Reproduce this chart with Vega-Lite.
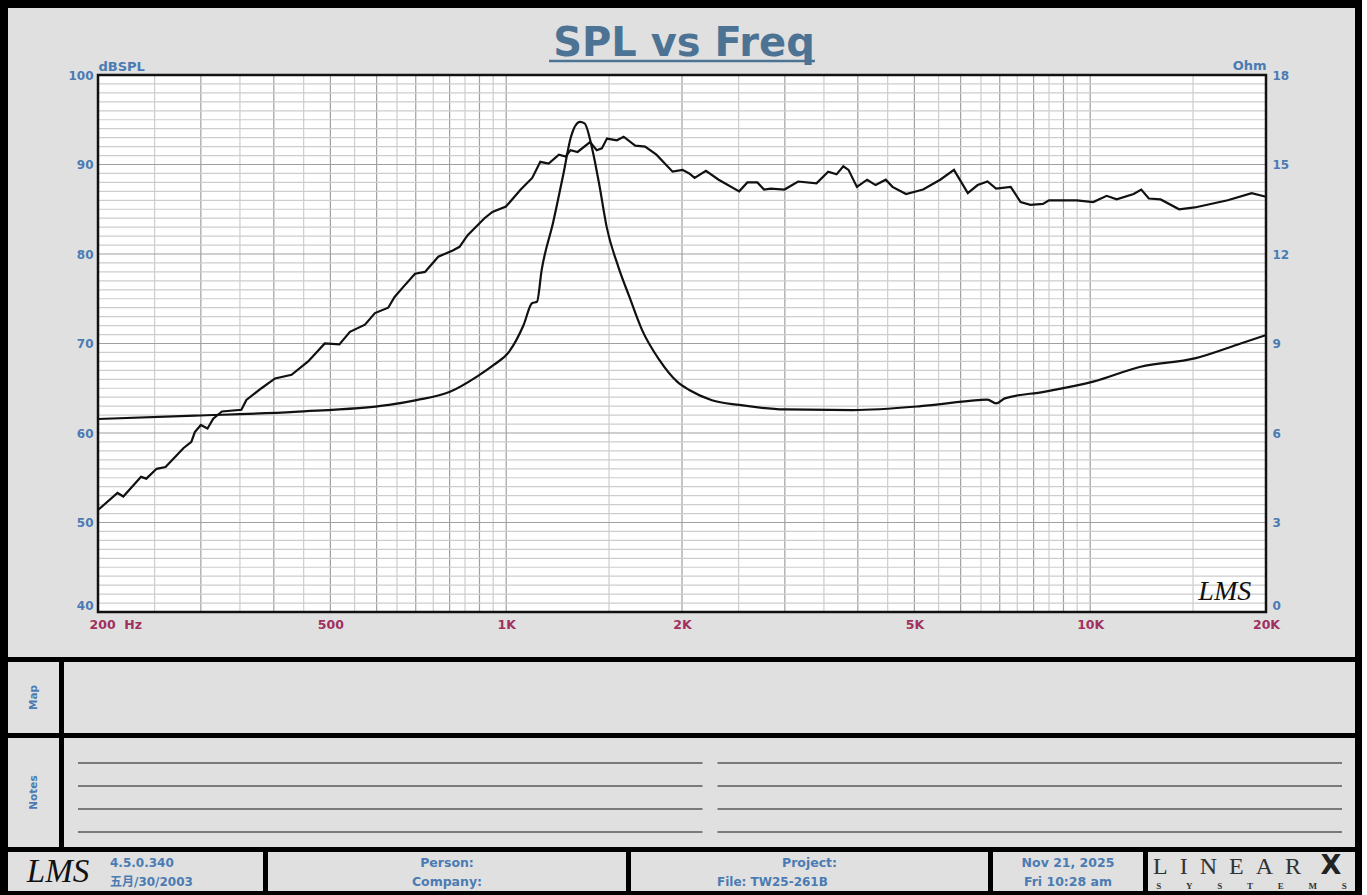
{
  "$schema": "https://vega.github.io/schema/vega-lite/v6.json",
  "background": "black",
  "padding": {"left": 8, "top": 8, "right": 7, "bottom": 4},
  "spacing": 5,
  "config": {
    "view": {"stroke": null, "fill": "#e0e0e0"},
    "text": {"font": "DejaVu Sans"}
  },
  "datasets": {
    "spl": [{"f":200,"db":51.4},{"f":216,"db":53.3},{"f":221,"db":52.9},{"f":237,"db":55.1},{"f":242,"db":54.9},{"f":252,"db":56.0},{"f":261,"db":56.2},{"f":270,"db":57.2},{"f":280,"db":58.3},{"f":289,"db":59.0},{"f":293,"db":60.1},{"f":300,"db":60.9},{"f":308,"db":60.5},{"f":315,"db":61.6},{"f":326,"db":62.4},{"f":352,"db":62.6},{"f":359,"db":63.7},{"f":381,"db":65.0},{"f":402,"db":66.1},{"f":429,"db":66.5},{"f":458,"db":68.0},{"f":489,"db":70.0},{"f":518,"db":69.9},{"f":540,"db":71.3},{"f":573,"db":72.1},{"f":596,"db":73.4},{"f":628,"db":74.0},{"f":644,"db":75.2},{"f":666,"db":76.3},{"f":698,"db":77.8},{"f":726,"db":78.0},{"f":765,"db":79.7},{"f":810,"db":80.4},{"f":832,"db":80.8},{"f":859,"db":82.1},{"f":918,"db":84.0},{"f":947,"db":84.7},{"f":999,"db":85.3},{"f":1059,"db":87.2},{"f":1108,"db":88.5},{"f":1144,"db":90.3},{"f":1182,"db":90.1},{"f":1231,"db":91.1},{"f":1264,"db":90.9},{"f":1289,"db":91.6},{"f":1325,"db":91.4},{"f":1392,"db":92.5},{"f":1429,"db":91.6},{"f":1458,"db":91.8},{"f":1488,"db":92.9},{"f":1547,"db":92.7},{"f":1589,"db":93.1},{"f":1663,"db":92.1},{"f":1729,"db":92.0},{"f":1808,"db":91.1},{"f":1927,"db":89.2},{"f":2004,"db":89.4},{"f":2058,"db":89.0},{"f":2102,"db":88.5},{"f":2198,"db":89.3},{"f":2311,"db":88.3},{"f":2506,"db":87.0},{"f":2588,"db":88.0},{"f":2692,"db":88.0},{"f":2764,"db":87.2},{"f":2838,"db":87.3},{"f":2996,"db":87.2},{"f":3161,"db":88.1},{"f":3399,"db":87.9},{"f":3559,"db":89.2},{"f":3679,"db":88.9},{"f":3778,"db":89.8},{"f":3856,"db":89.4},{"f":3986,"db":87.5},{"f":4150,"db":88.3},{"f":4291,"db":87.7},{"f":4466,"db":88.3},{"f":4586,"db":87.5},{"f":4838,"db":86.7},{"f":5174,"db":87.2},{"f":5536,"db":88.3},{"f":5844,"db":89.4},{"f":6172,"db":86.8},{"f":6416,"db":87.7},{"f":6670,"db":88.1},{"f":6900,"db":87.3},{"f":7310,"db":87.5},{"f":7600,"db":85.8},{"f":7900,"db":85.5},{"f":8300,"db":85.6},{"f":8500,"db":86.0},{"f":9480,"db":86.0},{"f":10120,"db":85.8},{"f":10670,"db":86.5},{"f":11100,"db":86.1},{"f":11870,"db":86.7},{"f":12230,"db":87.2},{"f":12600,"db":86.2},{"f":13200,"db":86.1},{"f":14200,"db":85.0},{"f":15100,"db":85.2},{"f":17200,"db":86.0},{"f":18900,"db":86.8},{"f":20000,"db":86.4}],
    "imp": [{"f":200,"ohm":6.47},{"f":293,"ohm":6.58},{"f":434,"ohm":6.71},{"f":630,"ohm":6.94},{"f":702,"ohm":7.10},{"f":801,"ohm":7.38},{"f":891,"ohm":7.89},{"f":952,"ohm":8.28},{"f":1011,"ohm":8.72},{"f":1071,"ohm":9.62},{"f":1107,"ohm":10.35},{"f":1129,"ohm":10.40},{"f":1150,"ohm":11.46},{"f":1204,"ohm":13.08},{"f":1252,"ohm":14.65},{"f":1291,"ohm":15.93},{"f":1337,"ohm":16.43},{"f":1362,"ohm":16.38},{"f":1405,"ohm":15.49},{"f":1442,"ohm":14.37},{"f":1486,"ohm":12.91},{"f":1556,"ohm":11.57},{"f":1625,"ohm":10.57},{"f":1709,"ohm":9.45},{"f":1829,"ohm":8.45},{"f":1962,"ohm":7.72},{"f":2058,"ohm":7.44},{"f":2250,"ohm":7.10},{"f":2506,"ohm":6.94},{"f":2996,"ohm":6.79},{"f":3924,"ohm":6.77},{"f":5128,"ohm":6.90},{"f":6420,"ohm":7.10},{"f":6670,"ohm":7.12},{"f":6900,"ohm":6.99},{"f":7140,"ohm":7.16},{"f":8330,"ohm":7.38},{"f":10120,"ohm":7.72},{"f":12200,"ohm":8.22},{"f":15100,"ohm":8.50},{"f":18100,"ohm":9.00},{"f":20000,"ohm":9.28}],
    "xgrid": [{"g":250,"kind":"minor"},{"g":300,"kind":"major"},{"g":350,"kind":"minor"},{"g":400,"kind":"major"},{"g":450,"kind":"minor"},{"g":500,"kind":"major"},{"g":550,"kind":"minor"},{"g":600,"kind":"major"},{"g":650,"kind":"minor"},{"g":700,"kind":"major"},{"g":750,"kind":"minor"},{"g":800,"kind":"major"},{"g":850,"kind":"minor"},{"g":900,"kind":"major"},{"g":950,"kind":"minor"},{"g":1000,"kind":"major"},{"g":1500,"kind":"minor"},{"g":2000,"kind":"major"},{"g":2500,"kind":"minor"},{"g":3000,"kind":"major"},{"g":3500,"kind":"minor"},{"g":4000,"kind":"major"},{"g":4500,"kind":"minor"},{"g":5000,"kind":"major"},{"g":5500,"kind":"minor"},{"g":6000,"kind":"major"},{"g":6500,"kind":"minor"},{"g":7000,"kind":"major"},{"g":7500,"kind":"minor"},{"g":8000,"kind":"major"},{"g":8500,"kind":"minor"},{"g":9000,"kind":"major"},{"g":9500,"kind":"minor"},{"g":10000,"kind":"major"},{"g":15000,"kind":"minor"}],
    "ygrid": [{"v":41,"kind":"minor"},{"v":42,"kind":"minor"},{"v":43,"kind":"minor"},{"v":44,"kind":"minor"},{"v":45,"kind":"minor"},{"v":46,"kind":"minor"},{"v":47,"kind":"minor"},{"v":48,"kind":"minor"},{"v":49,"kind":"minor"},{"v":50,"kind":"major"},{"v":51,"kind":"minor"},{"v":52,"kind":"minor"},{"v":53,"kind":"minor"},{"v":54,"kind":"minor"},{"v":55,"kind":"minor"},{"v":56,"kind":"minor"},{"v":57,"kind":"minor"},{"v":58,"kind":"minor"},{"v":59,"kind":"minor"},{"v":60,"kind":"major"},{"v":61,"kind":"minor"},{"v":62,"kind":"minor"},{"v":63,"kind":"minor"},{"v":64,"kind":"minor"},{"v":65,"kind":"minor"},{"v":66,"kind":"minor"},{"v":67,"kind":"minor"},{"v":68,"kind":"minor"},{"v":69,"kind":"minor"},{"v":70,"kind":"major"},{"v":71,"kind":"minor"},{"v":72,"kind":"minor"},{"v":73,"kind":"minor"},{"v":74,"kind":"minor"},{"v":75,"kind":"minor"},{"v":76,"kind":"minor"},{"v":77,"kind":"minor"},{"v":78,"kind":"minor"},{"v":79,"kind":"minor"},{"v":80,"kind":"major"},{"v":81,"kind":"minor"},{"v":82,"kind":"minor"},{"v":83,"kind":"minor"},{"v":84,"kind":"minor"},{"v":85,"kind":"minor"},{"v":86,"kind":"minor"},{"v":87,"kind":"minor"},{"v":88,"kind":"minor"},{"v":89,"kind":"minor"},{"v":90,"kind":"major"},{"v":91,"kind":"minor"},{"v":92,"kind":"minor"},{"v":93,"kind":"minor"},{"v":94,"kind":"minor"},{"v":95,"kind":"minor"},{"v":96,"kind":"minor"},{"v":97,"kind":"minor"},{"v":98,"kind":"minor"},{"v":99,"kind":"minor"}]
  },
  "vconcat": [
    {
      "width": 1347,
      "height": 649,
      "resolve": {"scale": {"y": "independent"}, "axis": {"x": "independent", "y": "independent"}},
      "layer": [
        {
          "data": {"values": [{}]},
          "mark": {"type": "rect", "fill": "white", "stroke": null},
          "encoding": {
            "x": {"datum": 200, "type": "quantitative", "scale": {"type": "log", "domain": [200, 20000], "range": [90, 1258], "nice": false}, "axis": null},
            "x2": {"datum": 20000},
            "y": {"datum": 40, "type": "quantitative", "scale": {"type": "linear", "domain": [40, 100], "range": [604, 67], "nice": false, "zero": false}, "axis": null},
            "y2": {"datum": 100}
          }
        },
        {
          "data": {"name": "xgrid"},
          "mark": {"type": "rule", "strokeWidth": 1.2},
          "encoding": {
            "x": {"field": "g", "type": "quantitative", "scale": {"type": "log", "domain": [200, 20000], "range": [90, 1258], "nice": false}, "axis": null},
            "y": {"datum": 40, "type": "quantitative", "scale": {"type": "linear", "domain": [40, 100], "range": [604, 67], "nice": false, "zero": false}, "axis": null},
            "y2": {"datum": 100},
            "color": {"field": "kind", "type": "nominal", "scale": {"domain": ["major", "minor"], "range": ["#a0a0a0", "#cdcdcd"]}, "legend": null}
          }
        },
        {
          "data": {"name": "ygrid"},
          "mark": {"type": "rule", "strokeWidth": 1.2},
          "encoding": {
            "y": {"field": "v", "type": "quantitative", "scale": {"type": "linear", "domain": [40, 100], "range": [604, 67], "nice": false, "zero": false}, "axis": null},
            "x": {"datum": 200, "type": "quantitative", "scale": {"type": "log", "domain": [200, 20000], "range": [90, 1258], "nice": false}, "axis": null},
            "x2": {"datum": 20000},
            "color": {"field": "kind", "type": "nominal", "scale": {"domain": ["major", "minor"], "range": ["#a0a0a0", "#cdcdcd"]}, "legend": null}
          }
        },
        {
          "data": {"name": "imp"},
          "mark": {"type": "line", "color": "#111111", "strokeWidth": 2.2, "interpolate": "monotone"},
          "encoding": {
            "x": {"field": "f", "type": "quantitative", "scale": {"type": "log", "domain": [200, 20000], "range": [90, 1258], "nice": false}, "axis": null},
            "y": {"field": "ohm", "type": "quantitative", "scale": {"type": "linear", "domain": [0, 18], "range": [604, 67], "nice": false, "zero": false},
              "axis": {"orient": "right", "offset": -89, "values": [0, 3, 6, 9, 12, 15, 18], "ticks": false, "domain": false, "grid": false,
                "labelFont": "DejaVu Sans", "labelFontWeight": "bold", "labelFontSize": 12, "labelColor": "#4b7bb3", "labelPadding": 6,
                "labelBaseline": {"condition": {"test": "datum.value == 0", "value": "bottom"}, "value": "middle"},
                "title": "Ohm", "titleAngle": 0, "titleAlign": "right", "titleBaseline": "alphabetic", "titleX": 0, "titleY": 61,
                "titleFont": "DejaVu Sans", "titleFontWeight": "bold", "titleFontSize": 13, "titleColor": "#4b7bb3"}}
          }
        },
        {
          "data": {"name": "spl"},
          "mark": {"type": "line", "color": "#111111", "strokeWidth": 2.2},
          "encoding": {
            "x": {"field": "f", "type": "quantitative", "scale": {"type": "log", "domain": [200, 20000], "range": [90, 1258], "nice": false},
              "axis": {"orient": "bottom", "offset": -45, "values": [200, 500, 1000, 2000, 5000, 10000, 20000], "ticks": false, "domain": false, "grid": false,
                "labelFlush": false, "labelOverlap": false,
                "labelExpr": "datum.value == 200 ? '200\u00a0\u00a0Hz' : (datum.value >= 1000 ? format(datum.value / 1000, 'd') + 'K' : format(datum.value, 'd'))",
                "labelAlign": {"condition": {"test": "datum.value == 200", "value": "left"}, "value": "center"},
                "labelOffset": {"condition": {"test": "datum.value == 200", "value": -9}, "value": 0},
                "labelFont": "DejaVu Sans", "labelFontWeight": "bold", "labelFontSize": 12.5, "labelColor": "#a03060", "labelPadding": 6, "title": null}},
            "y": {"field": "db", "type": "quantitative", "scale": {"type": "linear", "domain": [40, 100], "range": [604, 67], "nice": false, "zero": false},
              "axis": {"orient": "left", "offset": -90, "values": [40, 50, 60, 70, 80, 90, 100], "ticks": false, "domain": false, "grid": false,
                "labelFont": "DejaVu Sans", "labelFontWeight": "bold", "labelFontSize": 12, "labelColor": "#4b7bb3", "labelPadding": 5,
                "labelBaseline": {"condition": {"test": "datum.value == 40", "value": "bottom"}, "value": "middle"},
                "title": "dBSPL", "titleAngle": 0, "titleAlign": "left", "titleBaseline": "alphabetic", "titleX": 0, "titleY": 62,
                "titleFont": "DejaVu Sans", "titleFontWeight": "bold", "titleFontSize": 13, "titleColor": "#4b7bb3"}}
          }
        },
        {
          "data": {"values": [{}]},
          "mark": {"type": "rect", "filled": false, "stroke": "#111111", "strokeWidth": 2.5},
          "encoding": {
            "x": {"datum": 200, "type": "quantitative", "scale": {"type": "log", "domain": [200, 20000], "range": [90, 1258], "nice": false}, "axis": null},
            "x2": {"datum": 20000},
            "y": {"datum": 40, "type": "quantitative", "scale": {"type": "linear", "domain": [40, 100], "range": [604, 67], "nice": false, "zero": false}, "axis": null},
            "y2": {"datum": 100}
          }
        },
        {
          "data": {"values": [{"sig": "LMS"}]},
          "mark": {"type": "text", "font": "Liberation Serif", "fontStyle": "italic", "fontSize": 28, "color": "#111111", "align": "center", "baseline": "middle"},
          "encoding": {
            "text": {"field": "sig"},
            "x": {"datum": 17000, "type": "quantitative", "scale": {"type": "log", "domain": [200, 20000], "range": [90, 1258], "nice": false}, "axis": null},
            "y": {"datum": 42.2, "type": "quantitative", "scale": {"type": "linear", "domain": [40, 100], "range": [604, 67], "nice": false, "zero": false}, "axis": null}
          }
        },
        {
          "data": {"values": [{"title": "SPL vs Freq"}]},
          "mark": {"type": "text", "font": "DejaVu Sans", "fontWeight": "bold", "fontSize": 40, "color": "#4d7394", "align": "center", "baseline": "alphabetic"},
          "encoding": {
            "text": {"field": "title"},
            "x": {"datum": 2016, "type": "quantitative", "scale": {"type": "log", "domain": [200, 20000], "range": [90, 1258], "nice": false}, "axis": null},
            "y": {"datum": 102.12, "type": "quantitative", "scale": {"type": "linear", "domain": [40, 100], "range": [604, 67], "nice": false, "zero": false}, "axis": null}
          }
        },
        {
          "data": {"values": [{}]},
          "mark": {"type": "rule", "color": "#4d7394", "strokeWidth": 2.5},
          "encoding": {
            "x": {"datum": 1184, "type": "quantitative", "scale": {"type": "log", "domain": [200, 20000], "range": [90, 1258], "nice": false}, "axis": null},
            "x2": {"datum": 3378},
            "y": {"datum": 101.56, "type": "quantitative", "scale": {"type": "linear", "domain": [40, 100], "range": [604, 67], "nice": false, "zero": false}, "axis": null}
          }
        }
      ]
    },
    {
      "spacing": 5,
      "hconcat": [
        {
          "width": 51, "height": 71,
          "data": {"values": [{"label": "Map"}]},
          "mark": {"type": "text", "angle": 270, "font": "DejaVu Sans", "fontWeight": "bold", "fontSize": 10.5, "color": "#4b7bb3"},
          "encoding": {
            "text": {"field": "label"},
            "y": {"datum": "c", "type": "nominal", "scale": {"type": "point", "domain": ["c"], "padding": 0.5}, "axis": null}
          }
        },
        {
          "width": 1291, "height": 71,
          "data": {"values": [{"t": ""}]},
          "mark": {"type": "text"},
          "encoding": {
            "text": {"field": "t"},
            "y": {"datum": "c", "type": "nominal", "scale": {"type": "point", "domain": ["c"], "padding": 0.5}, "axis": null}
          }
        }
      ]
    },
    {
      "spacing": 5,
      "hconcat": [
        {
          "width": 51, "height": 109,
          "data": {"values": [{"label": "Notes"}]},
          "mark": {"type": "text", "angle": 270, "font": "DejaVu Sans", "fontWeight": "bold", "fontSize": 10.5, "color": "#4b7bb3"},
          "encoding": {
            "text": {"field": "label"},
            "y": {"datum": "c", "type": "nominal", "scale": {"type": "point", "domain": ["c"], "padding": 0.5}, "axis": null}
          }
        },
        {
          "width": 1291, "height": 109,
          "data": {"values": [{"side": "L", "line": 1}, {"side": "L", "line": 2}, {"side": "L", "line": 3}, {"side": "L", "line": 4}, {"side": "R", "line": 1}, {"side": "R", "line": 2}, {"side": "R", "line": 3}, {"side": "R", "line": 4}]},
          "mark": {"type": "rect", "color": "#7a7a7a"},
          "encoding": {
            "x": {"field": "side", "type": "nominal", "scale": {"type": "band", "range": [14, 1278], "paddingInner": 0.0235, "paddingOuter": 0}, "axis": null},
            "y": {"field": "line", "type": "ordinal", "scale": {"type": "band", "range": [13.5, 105.5], "paddingInner": 0.913, "paddingOuter": 0.4565}, "axis": null}
          }
        }
      ]
    },
    {
      "spacing": 5,
      "hconcat": [
        {
          "width": 255, "height": 39,
          "layer": [
            {
              "data": {"values": [{"t": "LMS"}]},
              "mark": {"type": "text", "font": "Liberation Serif", "fontStyle": "italic", "fontSize": 33, "color": "#111111", "align": "center", "baseline": "middle"},
              "encoding": {
                "text": {"field": "t"},
                "x": {"datum": "logo", "type": "nominal", "scale": {"type": "point", "domain": ["logo", "info"], "range": [50, 102], "padding": 0}, "axis": null}
              }
            },
            {
              "data": {"values": [{"t": "4.5.0.340", "r": 1}, {"t": "五月/30/2003", "r": 2}]},
              "mark": {"type": "text", "font": "DejaVu Sans, Noto Sans CJK SC", "fontWeight": "bold", "fontSize": 12, "color": "#4b7bb3", "align": "left", "baseline": "alphabetic"},
              "encoding": {
                "text": {"field": "t"},
                "x": {"datum": "info", "type": "nominal", "scale": {"type": "point", "domain": ["logo", "info"], "range": [50, 102], "padding": 0}, "axis": null},
                "y": {"field": "r", "type": "ordinal", "scale": {"type": "point", "domain": [1, 2], "range": [14.5, 34], "padding": 0}, "axis": null}
              }
            }
          ]
        },
        {
          "width": 358, "height": 39,
          "data": {"values": [{"t": "Person:", "r": 1}, {"t": "Company:", "r": 2}]},
          "mark": {"type": "text", "font": "DejaVu Sans", "fontWeight": "bold", "fontSize": 12.5, "color": "#4b7bb3", "align": "center", "baseline": "alphabetic"},
          "encoding": {
            "text": {"field": "t"},
            "y": {"field": "r", "type": "ordinal", "scale": {"type": "point", "domain": [1, 2], "range": [14.5, 34], "padding": 0}, "axis": null}
          }
        },
        {
          "width": 357, "height": 39,
          "layer": [
            {
              "data": {"values": [{"t": "Project:", "r": 1}]},
              "mark": {"type": "text", "font": "DejaVu Sans", "fontWeight": "bold", "fontSize": 12.5, "color": "#4b7bb3", "align": "center", "baseline": "alphabetic"},
              "encoding": {
                "text": {"field": "t"},
                "y": {"field": "r", "type": "ordinal", "scale": {"type": "point", "domain": [1, 2], "range": [14.5, 34], "padding": 0}, "axis": null}
              }
            },
            {
              "data": {"values": [{"t": "File: TW25-261B", "r": 2}]},
              "mark": {"type": "text", "font": "DejaVu Sans", "fontWeight": "bold", "fontSize": 12, "color": "#4b7bb3", "align": "left", "baseline": "alphabetic"},
              "encoding": {
                "text": {"field": "t"},
                "x": {"datum": "file", "type": "nominal", "scale": {"type": "point", "domain": ["file"], "range": [0, 172], "padding": 0.5}, "axis": null},
                "y": {"field": "r", "type": "ordinal", "scale": {"type": "point", "domain": [1, 2], "range": [14.5, 34], "padding": 0}, "axis": null}
              }
            }
          ]
        },
        {
          "width": 150, "height": 39,
          "data": {"values": [{"t": "Nov 21, 2025", "r": 1}, {"t": "Fri 10:28 am", "r": 2}]},
          "mark": {"type": "text", "font": "DejaVu Sans", "fontWeight": "bold", "fontSize": 12.5, "color": "#4b7bb3", "align": "center", "baseline": "alphabetic"},
          "encoding": {
            "text": {"field": "t"},
            "y": {"field": "r", "type": "ordinal", "scale": {"type": "point", "domain": [1, 2], "range": [14.5, 34], "padding": 0}, "axis": null}
          }
        },
        {
          "width": 207, "height": 39,
          "layer": [
            {
              "data": {"values": [{"t": "L\u00a0\u00a0I\u00a0\u00a0N\u00a0\u00a0E\u00a0\u00a0A\u00a0\u00a0R", "r": 1}]},
              "mark": {"type": "text", "font": "Liberation Serif", "fontSize": 24, "color": "#333333", "align": "left", "baseline": "alphabetic"},
              "encoding": {
                "text": {"field": "t"},
                "x": {"datum": "word", "type": "nominal", "scale": {"type": "point", "domain": ["word", "x"], "range": [5, 183], "padding": 0}, "axis": null},
                "y": {"field": "r", "type": "ordinal", "scale": {"type": "point", "domain": [1, 2], "range": [22, 37], "padding": 0}, "axis": null}
              }
            },
            {
              "data": {"values": [{"t": "X", "r": 1}]},
              "mark": {"type": "text", "font": "DejaVu Sans", "fontWeight": "bold", "fontSize": 27, "color": "#222222", "align": "center", "baseline": "alphabetic"},
              "encoding": {
                "text": {"field": "t"},
                "x": {"datum": "x", "type": "nominal", "scale": {"type": "point", "domain": ["word", "x"], "range": [5, 183], "padding": 0}, "axis": null},
                "y": {"field": "r", "type": "ordinal", "scale": {"type": "point", "domain": [1, 2], "range": [22, 37], "padding": 0}, "axis": null}
              }
            },
            {
              "data": {"values": [{"t": "S\u00a0\u00a0\u00a0\u00a0\u00a0\u00a0\u00a0\u00a0\u00a0\u00a0\u00a0Y\u00a0\u00a0\u00a0\u00a0\u00a0\u00a0\u00a0\u00a0\u00a0\u00a0\u00a0S\u00a0\u00a0\u00a0\u00a0\u00a0\u00a0\u00a0\u00a0\u00a0\u00a0\u00a0T\u00a0\u00a0\u00a0\u00a0\u00a0\u00a0\u00a0\u00a0\u00a0\u00a0\u00a0E\u00a0\u00a0\u00a0\u00a0\u00a0\u00a0\u00a0\u00a0\u00a0\u00a0\u00a0M\u00a0\u00a0\u00a0\u00a0\u00a0\u00a0\u00a0\u00a0\u00a0\u00a0\u00a0S", "r": 2}]},
              "mark": {"type": "text", "font": "Liberation Serif", "fontWeight": "bold", "fontSize": 9, "color": "#333333", "align": "center", "baseline": "alphabetic"},
              "encoding": {
                "text": {"field": "t"},
                "y": {"field": "r", "type": "ordinal", "scale": {"type": "point", "domain": [1, 2], "range": [22, 37], "padding": 0}, "axis": null}
              }
            }
          ]
        }
      ]
    }
  ]
}
